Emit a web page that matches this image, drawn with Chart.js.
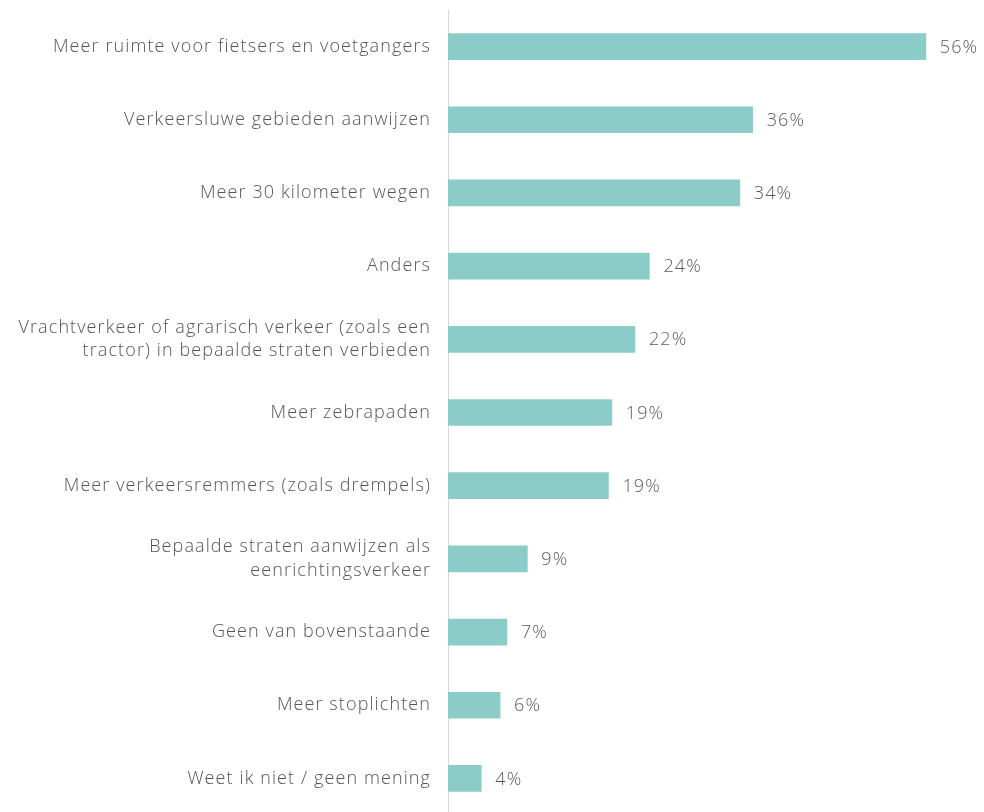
<!DOCTYPE html>
<html>
<head>
<meta charset="utf-8">
<script src="https://cdn.jsdelivr.net/npm/chart.js@4/dist/chart.umd.min.js"></script>
<style>
  html, body { margin: 0; padding: 0; background: #fff; overflow: hidden; }
  #wrap { position: relative; width: 984px; height: 820px; }
</style>
</head>
<body>
<div id="wrap"><canvas id="chartBar"></canvas></div>
<script>
// categorieën (lange labels over twee regels)
var categories = [
    'Meer ruimte voor fietsers en voetgangers',
    'Verkeersluwe gebieden aanwijzen',
    'Meer 30 kilometer wegen',
    'Anders',
    ['Vrachtverkeer of agrarisch verkeer (zoals een', 'tractor) in bepaalde straten verbieden'],
    'Meer zebrapaden',
    'Meer verkeersremmers (zoals drempels)',
    ['Bepaalde straten aanwijzen als', 'eenrichtingsverkeer'],
    'Geen van bovenstaande',
    'Meer stoplichten',
    'Weet ik niet / geen mening'
];
// geschatte waarden (lengte van de balken)
var values = [56, 35.7, 34.2, 23.6, 21.9, 19.2, 18.8, 9.3, 6.9, 6.1, 3.9];
// labels zoals in de grafiek
var valueLabels = ['56%', '36%', '34%', '24%', '22%', '19%', '19%', '9%', '7%', '6%', '4%'];

var textFont = 'Open Sans';
var spacing = '1.1px';

// letterafstand voor alle tekst (het origineel heeft een breed lettertype)
var wideText = {
    id: 'wideText',
    beforeDraw: function (chart) {
        chart.ctx.letterSpacing = spacing;
    }
};

// eigen plugin: percentage rechts naast elke balk
var barLabels = {
    id: 'barLabels',
    afterDatasetsDraw: function (chart) {
        var ctx = chart.ctx;
        var meta = chart.getDatasetMeta(0);
        ctx.save();
        ctx.letterSpacing = spacing;
        ctx.font = '300 18px ' + textFont;
        ctx.fillStyle = '#5a5a5a';
        ctx.textAlign = 'left';
        ctx.textBaseline = 'middle';
        meta.data.forEach(function (bar, i) {
            ctx.fillText(valueLabels[i], bar.x + 14, bar.y + 1);
        });
        ctx.restore();
    }
};

var chartBar = new Chart(document.getElementById('chartBar'), {
    type: 'bar',
    data: {
        labels: categories,
        datasets: [
            {
                data: values,
                backgroundColor: 'rgb(139, 204, 201)',
                borderWidth: 0,
                barThickness: 26
            }
        ]
    },
    options: {
        indexAxis: 'y',
        responsive: true,
        maintainAspectRatio: false,
        animation: false,
        layout: { padding: { top: 10, bottom: 5, right: 24, left: 0 } },
        plugins: {
            legend: { display: false },
            tooltip: { enabled: false }
        },
        scales: {
            x: {
                display: false,
                min: 0,
                max: 60
            },
            y: {
                afterFit: function (scale) {
                    scale.width = 448;
                    scale.paddingTop = 0;
                    scale.paddingBottom = 0;
                },
                grid: { display: false, drawTicks: false },
                border: { display: true, color: '#d6d6d6', width: 1 },
                ticks: {
                    padding: 17,
                    color: '#555555',
                    font: { family: textFont, size: 18, weight: '300', lineHeight: 1.28 }
                }
            }
        }
    },
    plugins: [wideText, barLabels]
});
</script>
</body>
</html>
